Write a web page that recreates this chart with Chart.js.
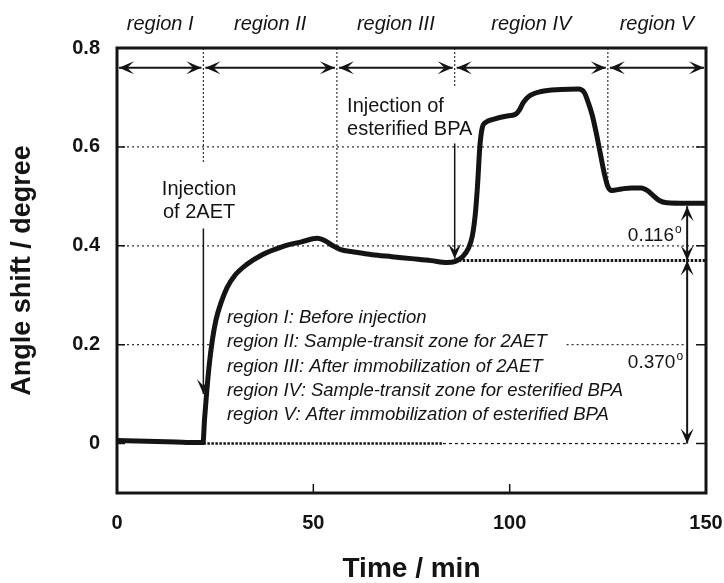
<!DOCTYPE html>
<html>
<head>
<meta charset="utf-8">
<title>Angle shift vs time</title>
<script src="https://cdn.jsdelivr.net/npm/chart.js@4.4.1/dist/chart.umd.min.js"></script>
<style>
  html, body { margin: 0; padding: 0; background: #fff; }
  #wrap { width: 724px; height: 583px; }
</style>
</head>
<body>
<div id="wrap"><canvas id="sensorgram" width="724" height="583"></canvas></div>
<script>
// sensorgram (time in min, angle shift in degree)
const TIME = [0, 5, 10, 15, 20, 21.9, 22.3, 22.8, 23.5, 24.3, 25.2, 26.5, 28, 30, 33, 37, 42, 47, 51, 53, 55,
  57, 60, 65, 70, 75, 80, 84, 86, 88, 89.5, 90.5, 91.2, 91.8, 92.4, 93, 94, 96, 99, 101.5, 102.5, 103.5,
  105, 108, 113, 117.5, 119, 120, 121, 122, 123, 124, 125, 126, 128.5, 131, 133.5, 135, 136.5, 138, 140, 145, 150];
const ANGLE = [0.006, 0.005, 0.004, 0.003, 0.002, 0.002, 0.05, 0.1, 0.16, 0.21, 0.25, 0.285, 0.315, 0.34, 0.362,
  0.382, 0.398, 0.408, 0.415, 0.41, 0.4, 0.392, 0.388, 0.382, 0.378, 0.374, 0.37, 0.366, 0.368, 0.378, 0.395,
  0.42, 0.46, 0.52, 0.6, 0.638, 0.65, 0.656, 0.662, 0.666, 0.675, 0.69, 0.703, 0.712, 0.716, 0.717, 0.71, 0.69,
  0.665, 0.63, 0.59, 0.55, 0.52, 0.512, 0.515, 0.517, 0.517, 0.512, 0.502, 0.492, 0.487, 0.486, 0.486];

const X_TICKS = [0, 50, 100, 150];
const Y_TICKS = [0, 0.2, 0.4, 0.6, 0.8];

const REGION_BOUNDS = [0, 22, 56, 86, 125, 150];
const REGION_NAMES = ['region I', 'region II', 'region III', 'region IV', 'region V'];
const REGION_NOTES = [
  'region I: Before injection',
  'region II: Sample-transit zone for 2AET',
  'region III: After immobilization of 2AET',
  'region IV: Sample-transit zone for esterified BPA',
  'region V: After immobilization of esterified BPA'
];
const BASE_2AET = 0;
const BASE_BPA = 0.37;
const FINAL_LEVEL = 0.486;
const SHIFT_LABELS = ['0.116', '0.370'];

const INK = '#141414';
const FONT = '"Liberation Sans", Arial, sans-serif';

function hLine(ctx, xs, ys, x0, x1, v, width, dash) {
  ctx.beginPath();
  ctx.lineWidth = width;
  ctx.setLineDash(dash);
  ctx.moveTo(xs.getPixelForValue(x0), ys.getPixelForValue(v));
  ctx.lineTo(xs.getPixelForValue(x1), ys.getPixelForValue(v));
  ctx.stroke();
  ctx.setLineDash([]);
}

function vLine(ctx, xs, ys, v, y0, y1, width, dash) {
  ctx.beginPath();
  ctx.lineWidth = width;
  ctx.setLineDash(dash);
  ctx.moveTo(xs.getPixelForValue(v), ys.getPixelForValue(y0));
  ctx.lineTo(xs.getPixelForValue(v), ys.getPixelForValue(y1));
  ctx.stroke();
  ctx.setLineDash([]);
}

function head(ctx, px, py, angle) {
  const len = 15, half = 6.5;
  ctx.save();
  ctx.translate(px, py);
  ctx.rotate(angle);
  ctx.beginPath();
  ctx.moveTo(0, 0);
  ctx.lineTo(-len, -half);
  ctx.lineTo(-len * 0.55, 0);
  ctx.lineTo(-len, half);
  ctx.closePath();
  ctx.fill();
  ctx.restore();
}

// arrow in pixels, heads: 'end' or 'both'
function arrow(ctx, x1, y1, x2, y2, width, heads) {
  const a = Math.atan2(y2 - y1, x2 - x1);
  ctx.beginPath();
  ctx.lineWidth = width;
  ctx.moveTo(x1, y1);
  ctx.lineTo(x2, y2);
  ctx.stroke();
  head(ctx, x2, y2, a);
  if (heads === 'both') head(ctx, x1, y1, a + Math.PI);
}

const annotations = {
  id: 'annotations',
  beforeDatasetsDraw(chart) {
    const { ctx, scales: { x, y } } = chart;
    ctx.save();
    ctx.strokeStyle = '#333';
    // dotted guides
    hLine(ctx, x, y, 0, 150, 0.6, 1.2, [2, 3]);
    hLine(ctx, x, y, 0, 150, 0.4, 1.2, [2, 3]);
    hLine(ctx, x, y, 0, 24, 0.2, 1.2, [2, 3]);
    hLine(ctx, x, y, 114.5, 145, 0.2, 1.2, [2, 3]);
    vLine(ctx, x, y, REGION_BOUNDS[1], 0.8, 0.566, 1.2, [2, 2]);
    vLine(ctx, x, y, REGION_BOUNDS[2], 0.8, 0.4, 1.2, [2, 2]);
    vLine(ctx, x, y, REGION_BOUNDS[3], 0.8, 0.72, 1.2, [2, 2]);
    vLine(ctx, x, y, REGION_BOUNDS[4], 0.8, 0.512, 1.2, [2, 2]);
    // baselines
    ctx.strokeStyle = INK;
    hLine(ctx, x, y, 22, 83, BASE_2AET, 2.6, [2.5, 1.5]);
    hLine(ctx, x, y, 83, 145, BASE_2AET, 1.2, [3, 3]);
    hLine(ctx, x, y, 86, 150, BASE_BPA, 3, [2.5, 1.5]);
    ctx.restore();
  },
  afterDatasetsDraw(chart) {
    const { ctx, chartArea: ca, scales: { x, y } } = chart;
    ctx.save();
    ctx.strokeStyle = INK;
    ctx.fillStyle = INK;

    // frame and inward ticks
    ctx.lineWidth = 3;
    ctx.strokeRect(ca.left, ca.top, ca.right - ca.left, ca.bottom - ca.top);
    ctx.lineWidth = 1.5;
    Y_TICKS.slice(0, -1).forEach(v => {
      const py = y.getPixelForValue(v);
      ctx.beginPath();
      ctx.moveTo(ca.left, py); ctx.lineTo(ca.left + 8, py);
      ctx.moveTo(ca.right - 10, py); ctx.lineTo(ca.right, py);
      ctx.stroke();
    });
    X_TICKS.slice(1, -1).forEach(v => {
      const px = x.getPixelForValue(v);
      ctx.beginPath();
      ctx.moveTo(px, ca.bottom); ctx.lineTo(px, ca.bottom - 9);
      ctx.stroke();
    });

    // region arrows along the top
    const ay = y.getPixelForValue(0.76);
    for (let i = 0; i < REGION_NAMES.length; i++) {
      const a = x.getPixelForValue(REGION_BOUNDS[i]) + 2;
      const b = x.getPixelForValue(REGION_BOUNDS[i + 1]) - 2;
      arrow(ctx, a, ay, b, ay, 2, 'both');
    }

    // injection arrows
    const x1 = x.getPixelForValue(REGION_BOUNDS[1]);
    arrow(ctx, x1, y.getPixelForValue(0.435), x1, y.getPixelForValue(0.1), 1.5, 'end');
    const x3 = x.getPixelForValue(REGION_BOUNDS[3]);
    arrow(ctx, x3, y.getPixelForValue(0.607), x3, y.getPixelForValue(BASE_BPA + 0.004), 1.5, 'end');

    // shift measurement arrows
    const mx = x.getPixelForValue(145.2);
    arrow(ctx, mx, y.getPixelForValue(FINAL_LEVEL - 0.006), mx, y.getPixelForValue(BASE_BPA), 2, 'both');
    arrow(ctx, mx, y.getPixelForValue(BASE_BPA), mx, y.getPixelForValue(BASE_2AET), 2, 'both');

    // region names above the frame
    ctx.font = `italic 20px ${FONT}`;
    ctx.textAlign = 'center';
    ctx.textBaseline = 'alphabetic';
    REGION_NAMES.forEach((name, i) => {
      const cx = (x.getPixelForValue(REGION_BOUNDS[i]) + x.getPixelForValue(REGION_BOUNDS[i + 1])) / 2;
      ctx.fillText(name, cx, 30);
    });

    // injection notes
    ctx.font = `20px ${FONT}`;
    ctx.fillText('Injection', x.getPixelForValue(20.9), y.getPixelForValue(0.503));
    ctx.fillText('of 2AET', x.getPixelForValue(20.9), y.getPixelForValue(0.456));
    ctx.textAlign = 'left';
    ctx.fillText('Injection of', x.getPixelForValue(58.6), y.getPixelForValue(0.671));
    ctx.fillText('esterified BPA', x.getPixelForValue(58.6), y.getPixelForValue(0.624));

    // region legend
    ctx.font = `italic 18.5px ${FONT}`;
    const ly = y.getPixelForValue(0.244);
    REGION_NOTES.forEach((note, i) => {
      ctx.fillText(note, x.getPixelForValue(28), ly + i * 24.3);
    });

    // shift values with degree mark
    [[SHIFT_LABELS[0], 0.41], [SHIFT_LABELS[1], 0.153]].forEach(([txt, v]) => {
      const tx = x.getPixelForValue(130.1);
      const ty = y.getPixelForValue(v);
      ctx.font = `19px ${FONT}`;
      ctx.fillText(txt, tx, ty);
      const w = ctx.measureText(txt).width;
      ctx.font = `12px ${FONT}`;
      ctx.fillText('o', tx + w + 1, ty - 8);
    });

    ctx.restore();
  }
};

new Chart(document.getElementById('sensorgram'), {
  type: 'line',
  data: {
    datasets: [{
      label: 'Angle shift',
      data: TIME.map((t, i) => ({ x: t, y: ANGLE[i] })),
      borderColor: INK,
      borderWidth: 5,
      pointRadius: 0,
      cubicInterpolationMode: 'monotone',
      fill: false
    }]
  },
  options: {
    responsive: false,
    animation: false,
    layout: { padding: { top: 48, right: 18, left: 0, bottom: 0 } },
    plugins: { legend: { display: false }, tooltip: { enabled: false } },
    scales: {
      x: {
        type: 'linear',
        min: 0,
        max: 150,
        afterBuildTicks: s => { s.ticks = X_TICKS.map(v => ({ value: v })); },
        afterFit: s => { s.height = 90; s.paddingLeft = 0; s.paddingRight = 0; },
        grid: { display: false, drawTicks: false },
        border: { display: false },
        ticks: {
          color: INK,
          padding: 18,
          font: { family: FONT, size: 20, weight: 'bold' },
          callback: v => String(v)
        },
        title: {
          display: true,
          text: 'Time / min',
          color: INK,
          padding: { bottom: 0 },
          font: { family: FONT, size: 28, weight: 'bold', lineHeight: 1 }
        }
      },
      y: {
        type: 'linear',
        min: -0.1,
        max: 0.8,
        afterBuildTicks: s => { s.ticks = Y_TICKS.map(v => ({ value: v })); },
        afterFit: s => { s.width = 117; s.paddingTop = 0; s.paddingBottom = 0; },
        grid: { display: false, drawTicks: false },
        border: { display: false },
        ticks: {
          color: INK,
          padding: 17,
          font: { family: FONT, size: 20, weight: 'bold' },
          callback: v => (v === 0 ? '0' : v.toFixed(1))
        },
        title: {
          display: true,
          text: 'Angle shift / degree',
          color: INK,
          padding: { top: 9 },
          font: { family: FONT, size: 27, weight: 'bold', lineHeight: 1 }
        }
      }
    }
  },
  plugins: [annotations]
});
</script>
</body>
</html>
